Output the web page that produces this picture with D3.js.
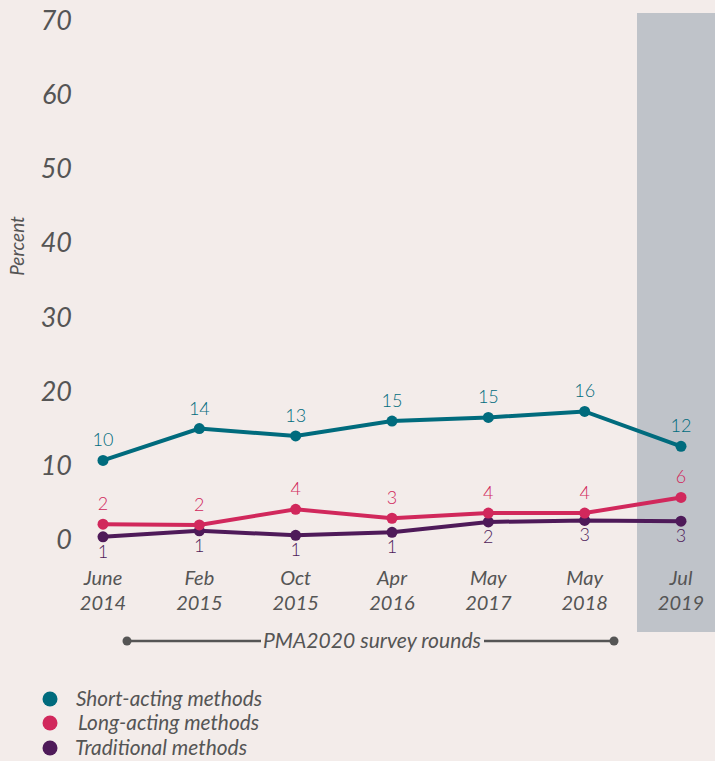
<!DOCTYPE html>
<html><head><meta charset="utf-8">
<script src="https://cdn.jsdelivr.net/npm/d3@7"></script>
<style>
html,body{margin:0;padding:0;background:#f3ecea;}
svg{display:block;}
text{font-family:Lato,"Open Sans",sans-serif;}
</style></head>
<body>
<svg id="chart" width="715" height="761"></svg>
<script>
const rounds = ["June 2014","Feb 2015","Oct 2015","Apr 2016","May 2017","May 2018","Jul 2019"];
const roundLine1 = ["June","Feb","Oct","Apr","May","May","Jul"];
const roundLine2 = ["2014","2015","2015","2016","2017","2018","2019"];
const shortActing = [10.6, 14.9, 13.9, 15.9, 16.4, 17.2, 12.5];
const longActing = [2.0, 1.9, 4.0, 2.8, 3.5, 3.5, 5.6];
const traditional = [0.3, 1.1, 0.5, 0.9, 2.3, 2.5, 2.4];
const shortLabels = ["10","14","13","15","15","16","12"];
const longLabels = ["2","2","4","3","4","4","6"];
const tradLabels = ["1","1","1","1","2","3","3"];
const yTicks = [0,10,20,30,40,50,60,70];
const seriesNames = ["Short-acting methods","Long-acting methods","Traditional methods"];
const seriesColors = ["#006b7d","#d1285c","#4e1a59"];

const svg = d3.select("#chart");
svg.append("rect").attr("width",715).attr("height",761).attr("fill","#f3ecea");

const x = d3.scalePoint().domain(rounds).range([103,681]);
const y = d3.scaleLinear().domain([0,70]).range([539,20]);

// highlighted last round
svg.append("rect").attr("x",637).attr("y",13).attr("width",80).attr("height",619).attr("fill","#bfc3c9");

// y axis
const yAxis = d3.axisLeft(y).tickValues(yTicks).tickSize(0).tickPadding(0).tickFormat(d3.format("d"));
const ga = svg.append("g").attr("transform","translate(72,0)").call(yAxis);
ga.select(".domain").remove();
ga.selectAll("text").attr("font-family","Lato").attr("font-style","italic")
  .attr("font-size",27).attr("fill","#555").attr("dy","0.35em");

svg.append("text").attr("transform","translate(24,246) rotate(-90)")
  .attr("text-anchor","middle").attr("font-style","italic").attr("font-size",19)
  .attr("fill","#555").text("Percent");

// x labels
const xl = svg.append("g");
rounds.forEach((r,i)=>{
  const t = xl.append("text").attr("x",x(r)).attr("text-anchor","middle")
    .attr("font-style","italic").attr("font-size",20).attr("fill","#555");
  t.append("tspan").attr("x",x(r)).attr("y",585).text(roundLine1[i]);
  t.append("tspan").attr("x",x(r)).attr("y",610).text(roundLine2[i]);
});

const line = d3.line().x((d,i)=>x(rounds[i])).y(d=>y(d));
const series = [
  {vals:traditional, labels:tradLabels, color:seriesColors[2], dy:21},
  {vals:longActing, labels:longLabels, color:seriesColors[1], dy:-14},
  {vals:shortActing, labels:shortLabels, color:seriesColors[0], dy:-14}
];
series.forEach(s=>{
  svg.append("path").datum(s.vals).attr("d",line).attr("fill","none")
    .attr("stroke",s.color).attr("stroke-width",4);
  svg.selectAll(null).data(s.vals).enter().append("circle")
    .attr("cx",(d,i)=>x(rounds[i])).attr("cy",d=>y(d)).attr("r",5.5).attr("fill",s.color);
  svg.selectAll(null).data(s.vals).enter().append("text")
    .attr("x",(d,i)=>x(rounds[i])).attr("y",d=>y(d)+s.dy)
    .attr("text-anchor","middle").attr("font-family","'Noto Sans'").attr("font-weight",300)
    .attr("font-size",18).attr("fill",s.color).text((d,i)=>s.labels[i]);
});

// bracket
const by = 641;
svg.append("line").attr("x1",127).attr("x2",261).attr("y1",by).attr("y2",by).attr("stroke","#555").attr("stroke-width",2.5);
svg.append("line").attr("x1",484).attr("x2",614).attr("y1",by).attr("y2",by).attr("stroke","#555").attr("stroke-width",2.5);
svg.append("circle").attr("cx",127).attr("cy",by).attr("r",4.5).attr("fill","#555");
svg.append("circle").attr("cx",614).attr("cy",by).attr("r",4.5).attr("fill","#555");
svg.append("text").attr("x",372).attr("y",by+7).attr("text-anchor","middle")
  .attr("font-style","italic").attr("font-size",21).attr("fill","#555")
  .attr("textLength",218).attr("lengthAdjust","spacingAndGlyphs").text("PMA2020 survey rounds");

// legend
const lgY = [699,723,748];
const lgX = [76,78,75];
const lgW = [186,181,172];
seriesNames.forEach((n,i)=>{
  svg.append("circle").attr("cx",50).attr("cy",lgY[i]).attr("r",7.5).attr("fill",seriesColors[i]);
  svg.append("text").attr("x",lgX[i]).attr("y",lgY[i]+7).attr("font-style","italic")
    .attr("font-size",21).attr("fill","#555")
    .attr("textLength",lgW[i]).attr("lengthAdjust","spacingAndGlyphs").text(n);
});
</script>
</body></html>
